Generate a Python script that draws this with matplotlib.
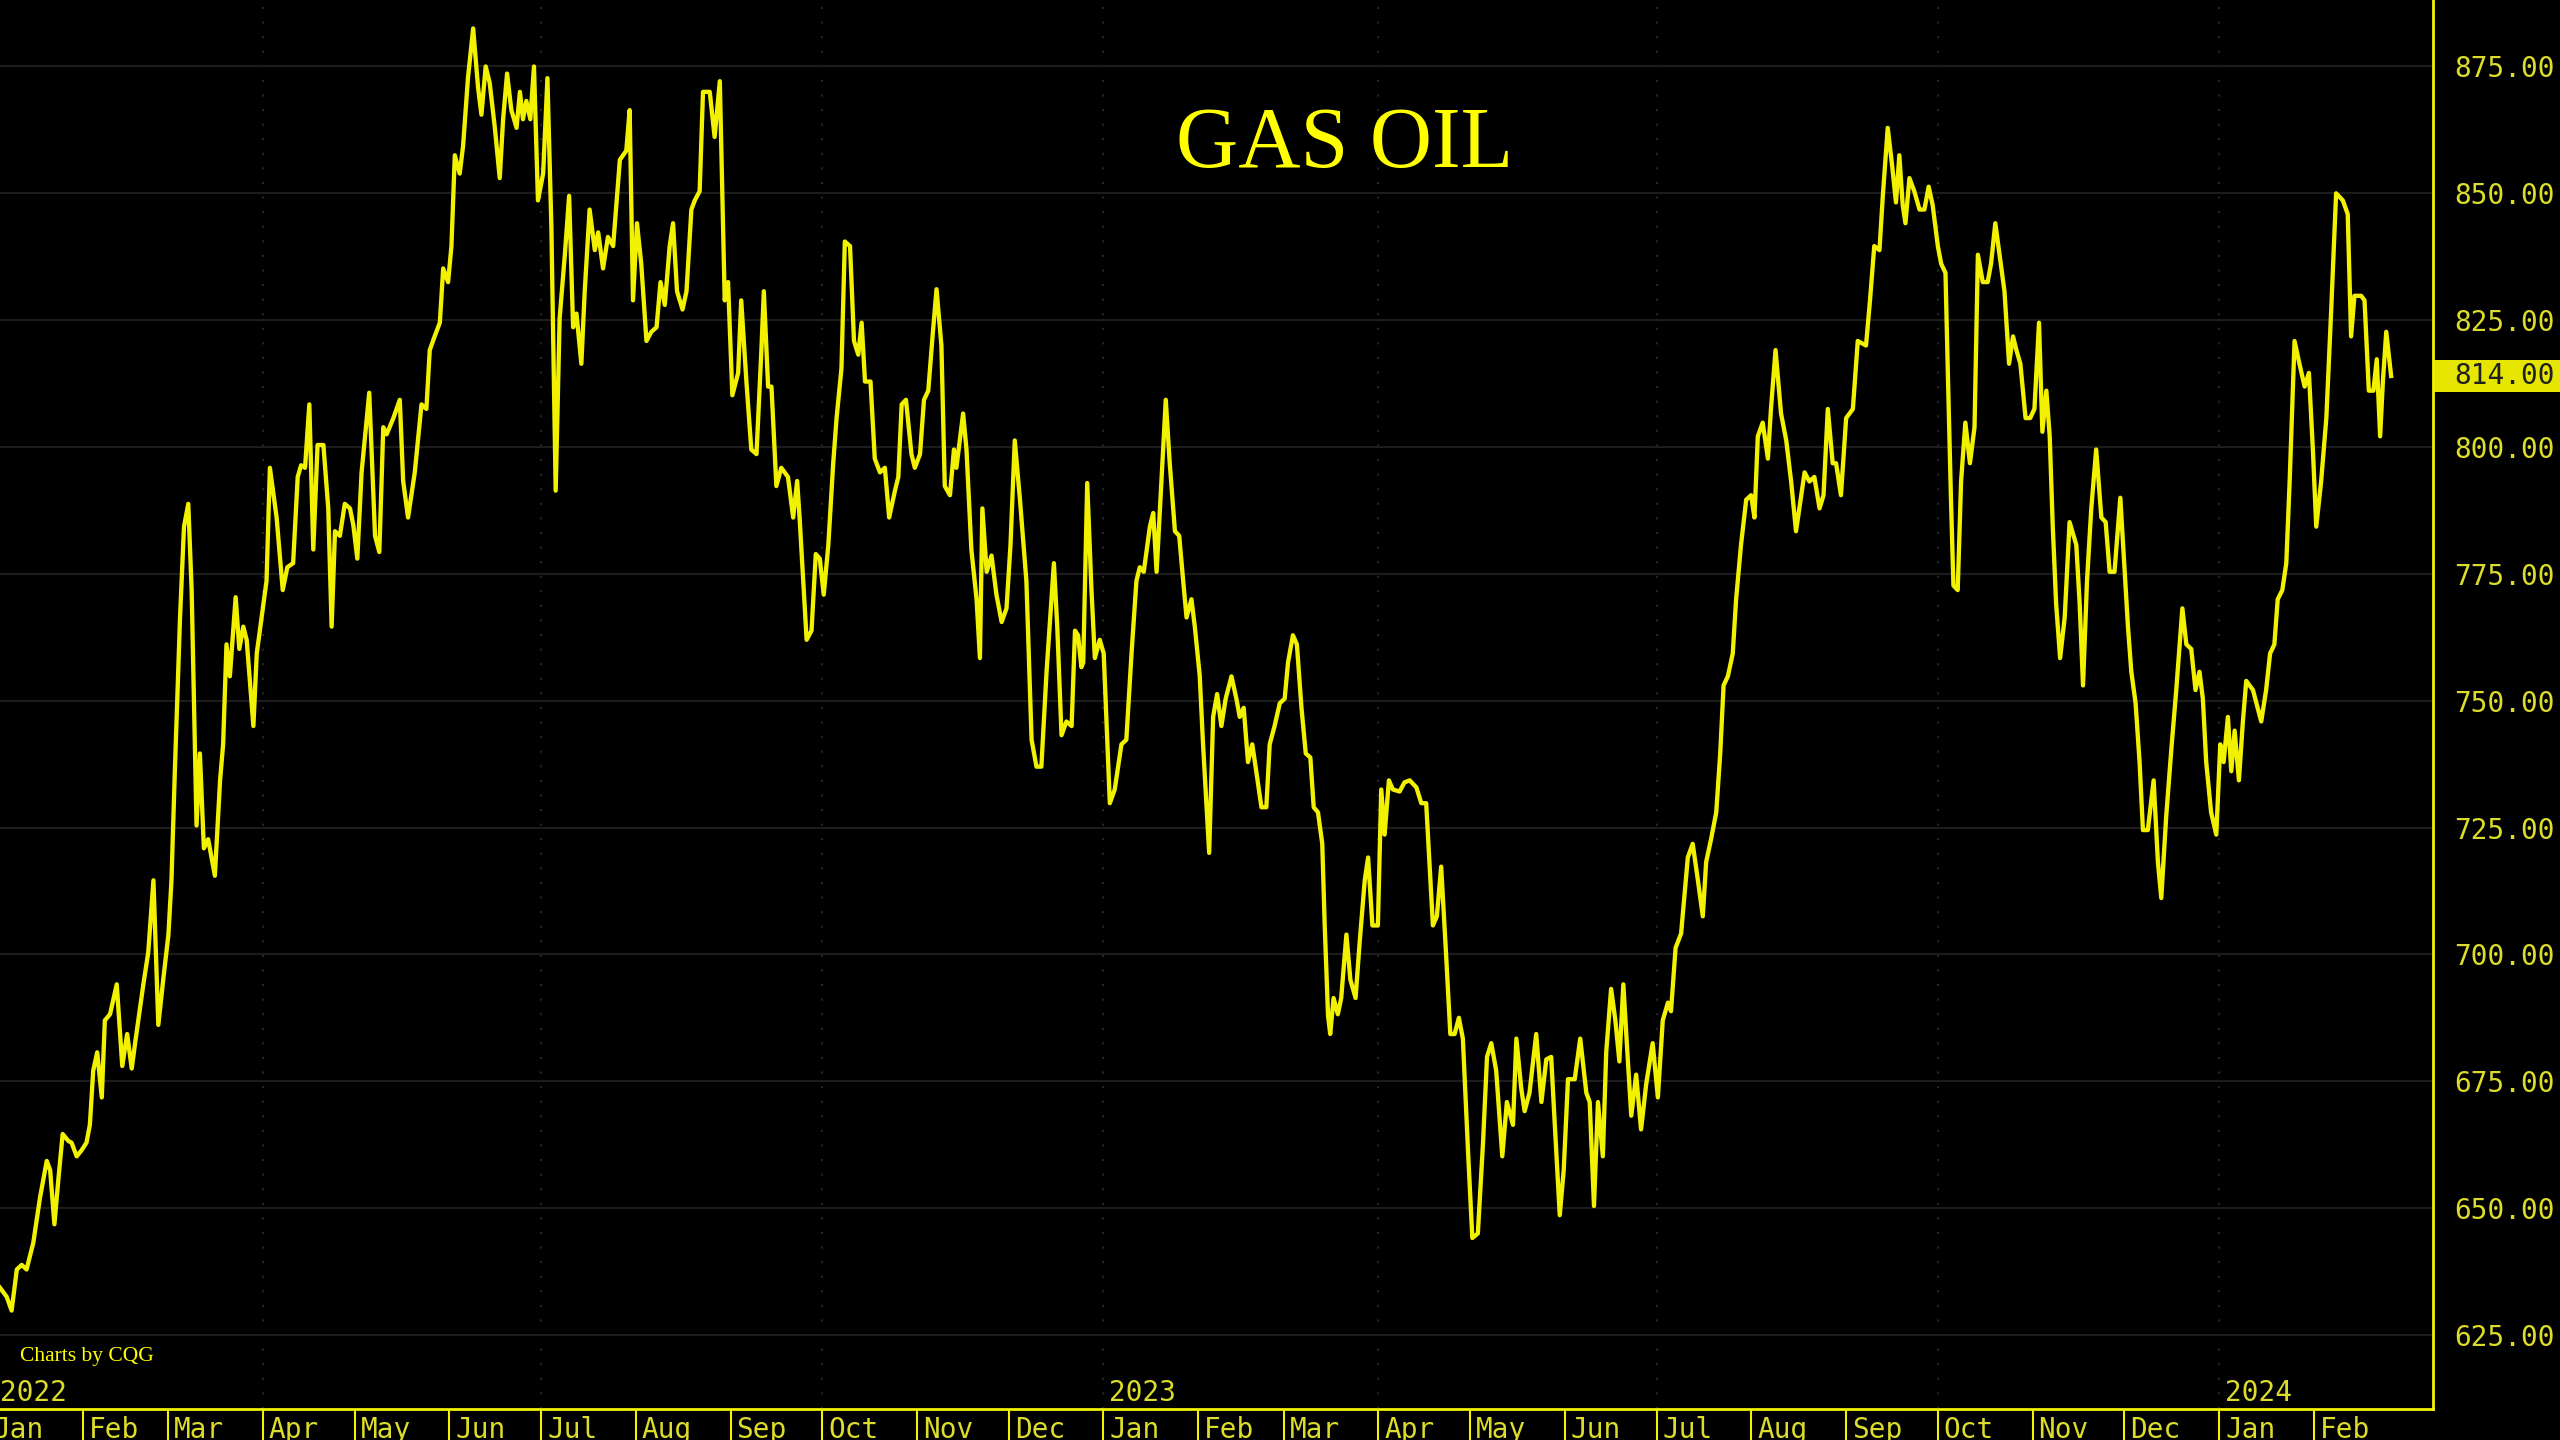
import pandas as pd
import matplotlib
matplotlib.use('Agg')
import matplotlib.pyplot as plt
import matplotlib.ticker as mticker
import matplotlib.dates as mdates
from matplotlib.patches import Rectangle
from matplotlib.transforms import blended_transform_factory


# data: days after the first session, and price
start = '2022-01-05'
end = '2024-03-11'

day = [
    0.0, 2.2, 3.8, 5.5, 7.1, 8.7, 10.9, 13.1, 15.3, 16.4,
    17.8, 19.1, 20.5, 22.4, 23.4, 25.1, 26.7, 28.3, 29.4, 30.5,
    31.8, 33.3, 34.3, 36.0, 38.2, 40.0, 41.6, 43.1, 44.2, 46.9,
    48.5, 50.2, 51.8, 53.4, 55.1, 56.1, 57.2, 58.9, 60.2, 61.6,
    62.7, 64.3, 65.4, 66.7, 68.1, 70.3, 72.0, 73.0, 74.1, 75.2,
    77.1, 78.3, 79.6, 80.7, 82.9, 84.0, 85.6, 87.2, 88.3, 90.5,
    92.5, 94.0, 95.9, 97.4, 98.5, 99.8, 101.2, 102.5, 103.9, 105.8,
    107.4, 108.5, 109.6, 111.2, 112.8, 114.5, 115.6, 116.9, 118.3, 120.8,
    122.7, 124.1, 125.4, 126.5, 128.7, 130.8,
    131.9, 133.5, 135.7, 137.9, 139.5, 140.6, 142.2, 143.9, 145.0, 146.6,
    147.7, 148.8, 150.4, 151.5, 153.1, 154.8, 156.4, 157.5, 158.9, 160.2,
    161.9, 163.5, 164.6, 165.9, 167.3, 169.0, 170.1, 171.1, 172.2, 173.5,
    174.7, 176.0, 177.7, 179.1, 180.4, 181.8, 183.1, 184.8, 186.2, 187.5,
    188.6, 190.2, 191.3, 192.9, 194.6, 195.7, 197.3, 198.9, 200.6, 202.8,
    204.9, 206.0, 207.1, 208.4, 209.8, 211.5, 213.1, 214.8, 216.1, 217.5,
    219.1, 220.2, 221.5, 223.3, 224.6, 226.2, 227.3, 228.9, 230.0, 232.2,
    233.8, 235.5, 237.1, 238.2, 239.6, 241.5, 242.5, 244.2, 245.8, 247.5,
    249.1, 249.9, 251.3, 252.4, 254.0, 255.6, 257.8, 259.5, 260.8, 261.6,
    262.8, 263.9, 265.5, 266.9, 268.2, 269.5, 271.0, 272.6, 273.7, 275.3,
    276.4, 278.1, 279.4, 280.8, 281.9, 283.0, 284.8, 286.2, 287.9, 289.5,
    290.9, 292.8, 293.9, 295.0, 296.4, 298.2, 299.3, 301.0, 302.3, 303.7,
    305.1, 306.4, 308.0, 309.1, 310.8, 312.1, 312.9, 315.1, 316.2, 317.8,
    319.5, 320.6, 321.4, 322.8, 324.4, 326.0, 327.7, 329.3, 330.6, 332.0,
    333.7, 335.8, 337.5, 339.1, 340.7, 342.4, 344.8, 345.9, 347.3, 348.9,
    350.6, 351.7, 352.7, 353.8, 354.4, 355.7, 357.1, 358.2, 359.8, 361.1,
    363.1, 364.7, 366.9, 368.5, 370.2, 371.8, 372.9, 374.2, 376.2, 377.3,
    378.4, 379.5, 381.4, 382.7, 384.4, 385.8, 387.1, 388.2, 389.8, 390.9,
    392.5, 393.6, 395.6, 396.9, 398.2, 399.6, 401.0, 402.9, 404.5, 405.6,
    406.9, 408.3, 409.7, 411.0, 412.7, 414.3, 415.4, 417.0, 418.7, 420.3,
    421.4, 423.0, 424.3, 425.8, 427.2, 428.7, 429.8, 431.2, 432.6, 433.4,
    434.5, 435.2, 436.3, 437.7, 438.8, 440.5, 441.8, 443.5, 444.8, 446.5,
    447.6, 449.0, 450.8, 451.9, 453.0, 454.4, 455.7, 457.9, 459.5, 461.2,
    463.4, 465.0, 466.6, 468.8, 470.1, 471.5, 473.0, 474.5, 475.9, 477.3,
    478.6, 480.3, 481.7, 483.5, 485.2, 486.5, 487.9, 489.5, 491.5, 493.0,
    495.0, 496.1, 497.7, 498.8, 500.4, 502.6, 504.3, 505.9, 507.5, 508.6,
    510.3, 511.6, 513.0, 515.2, 517.0, 519.0, 520.1, 521.5, 522.8,
    524.4, 525.5, 527.1, 528.5, 529.8, 531.1, 532.6, 533.7, 535.3, 536.9,
    538.6, 540.7, 542.4, 544.0, 545.7, 546.7, 548.2, 550.0, 552.2, 553.8,
    555.5, 557.1, 558.2, 559.8, 561.5, 562.8, 563.9, 565.3, 566.9, 568.0,
    569.6, 571.3, 572.9, 574.0, 575.1, 576.7, 578.4, 579.4, 580.9, 582.7,
    584.4, 586.0, 587.6, 588.9, 590.4, 592.0, 593.6, 595.3, 596.6, 598.0,
    599.6, 600.7, 602.3, 604.0, 606.2, 607.8, 610.5, 611.8, 613.2, 614.9,
    616.0, 617.6, 619.0, 620.3, 621.4, 622.5, 623.4, 624.7, 626.3, 628.0,
    629.6, 631.0, 632.3, 634.0, 635.1, 636.5, 637.2, 638.3, 639.1, 640.5,
    641.6, 643.0, 644.5, 646.0, 647.1, 648.7, 650.3, 651.4, 652.8,
    655.8, 657.3, 658.6, 659.7, 661.0, 662.7, 664.2, 665.6, 667.1, 668.2,
    669.5, 670.6, 671.6, 672.7, 674.0, 675.5, 677.1, 679.3, 680.4, 681.5,
    682.8, 684.2, 685.8, 687.5, 688.9, 690.2, 691.8, 693.7, 694.8, 696.2,
    697.3, 698.7, 700.0, 701.1, 702.7, 704.6, 706.0, 707.1, 708.7, 710.4,
    712.0, 714.0, 715.3, 716.9, 718.3, 719.6, 720.7, 721.8, 723.4, 725.1,
    726.4, 727.5, 728.9, 730.0, 731.1, 732.5, 733.8, 734.9, 737.1, 739.8,
    741.4, 742.7, 744.1, 745.2, 746.7, 748.0, 749.1, 750.7, 752.3, 754.0,
    755.4, 756.7, 757.8, 759.4, 761.1, 762.7, 764.3, 766.5, 768.1, 769.2,
    770.3, 772.5, 773.6, 775.0, 776.5, 777.6, 778.7, 779.6, 780.7, 782.3,
]

price = [
    634.3, 632.5, 629.8, 637.9, 638.8, 637.9, 643.2, 652.1, 659.3, 657.5,
    646.8, 655.7, 664.6, 663.2, 662.9, 660.2, 661.4, 662.9, 666.4, 677.1,
    680.7, 671.8, 687.0, 688.2, 694.1, 678.0, 684.3, 677.5, 682.5, 694.1,
    700.4, 714.6, 686.1, 695.0, 703.9, 714.6, 736.1, 766.4, 784.3, 788.8,
    771.8, 725.4, 739.6, 720.9, 722.7, 715.5, 734.3, 741.4, 761.1, 754.8,
    770.4, 760.2, 764.6, 762.0, 745.0, 759.3, 766.4, 773.6, 795.9, 786.1,
    771.8, 776.3, 777.1, 794.1, 796.4, 795.9, 808.4, 779.8, 800.4, 800.4,
    787.9, 764.6, 783.4, 782.5, 788.8, 787.9, 784.6, 778.0, 795.0, 810.7,
    782.5, 779.3, 803.9, 802.5, 805.7, 809.3,
    793.3, 786.1, 795.0, 808.4, 807.5, 819.1, 821.8, 824.5, 835.2, 832.5,
    839.6, 857.5, 853.9, 859.3, 872.7, 882.5, 870.9, 865.5, 875.0, 871.8,
    862.9, 853.0, 864.6, 873.6, 866.4, 862.9, 870.0, 864.6, 868.2, 864.6,
    875.0, 848.6, 853.9, 872.7, 843.2, 791.4, 825.4, 837.9, 849.5, 823.6,
    826.3, 816.4, 830.7, 846.8, 838.8, 842.3, 835.2, 841.4, 839.6, 856.6,
    858.4, 866.4, 828.9, 844.1, 836.1, 820.9, 822.7, 823.6, 832.5, 828.0,
    839.6, 844.1, 830.7, 827.1, 830.7, 846.8, 848.6, 850.4, 870.0, 870.0,
    861.1, 872.1, 828.9, 832.5, 810.2, 814.6, 828.9, 812.9, 799.5, 798.6,
    819.1, 830.7, 811.9, 811.9, 792.3, 795.9, 794.1, 786.1, 793.3, 786.1,
    773.6, 762.0, 763.8, 778.9, 778.0, 770.9, 780.7, 796.8, 805.7, 815.5,
    840.5, 839.6, 820.9, 818.2, 824.5, 812.9, 812.9, 797.7, 795.0, 795.9,
    786.1, 791.4, 794.1, 808.4, 809.3, 798.6, 795.9, 798.6, 809.3, 811.1,
    821.8, 831.1, 820.0, 792.3, 790.5, 799.5, 795.9, 806.6, 799.5, 779.8,
    770.0, 758.4, 787.9, 775.4, 778.6, 770.9, 765.5, 768.2, 780.7, 801.3,
    789.6, 773.6, 742.3, 737.0, 737.0, 755.7, 777.1, 764.6, 743.2, 745.9,
    745.0, 763.8, 762.9, 756.6, 757.5, 792.9, 771.8, 758.4, 762.0, 759.3,
    729.8, 732.5, 741.4, 742.3, 759.3, 773.6, 776.3, 775.4, 784.3, 787.0,
    775.4, 787.9, 809.3, 796.8, 783.4, 782.5, 773.6, 766.4, 770.0, 764.6,
    755.0, 741.4, 720.0, 746.8, 751.3, 745.0, 750.4, 754.8, 750.4, 746.8,
    748.6, 737.9, 741.4, 736.1, 729.0, 729.0, 741.4, 745.0, 749.5, 750.4,
    757.5, 762.9, 761.1, 748.6, 739.6, 738.8, 729.0, 728.0, 721.8, 705.7,
    687.9, 684.3, 691.4, 688.2, 691.4, 703.9, 695.0, 691.4, 702.1, 714.6,
    719.1, 705.7, 705.7, 732.5, 723.6, 734.3, 732.5, 732.1, 733.9, 734.3,
    732.9, 729.8, 729.8, 705.7, 707.5, 717.3, 701.2, 684.3, 684.3, 687.5,
    683.4, 661.1, 644.1, 645.0, 662.9, 679.8, 682.5, 677.1, 660.2, 670.9,
    666.4, 683.4, 673.6, 669.1, 672.7, 684.3, 670.9, 679.3, 679.8, 667.3,
    648.6, 657.5, 675.4, 675.4, 683.4, 672.7, 670.9, 650.4, 670.9,
    660.2, 680.7, 693.2, 687.0, 678.9, 694.1, 678.9, 668.2, 676.3, 665.5,
    674.5, 682.5, 671.8, 687.0, 690.5, 688.8, 701.3, 704.1, 719.1, 721.8,
    714.6, 707.5, 718.2, 722.7, 728.0, 739.6, 753.0, 754.8, 759.3, 770.0,
    780.7, 789.6, 790.5, 786.1, 802.1, 804.8, 797.7, 807.5, 819.1, 806.6,
    801.3, 793.2, 783.4, 788.8, 795.0, 793.2, 794.1, 787.9, 790.5, 807.5,
    796.8, 796.8, 790.5, 805.7, 807.5, 820.9, 820.0, 828.9, 839.6, 838.8,
    849.5, 862.9, 855.7, 848.2, 857.5, 847.7, 844.1, 853.0, 850.4, 846.8,
    846.8, 851.3, 847.7, 839.6, 836.1, 834.3, 816.4, 789.6, 772.7, 771.8,
    793.2, 804.8, 796.8, 803.9, 837.9, 832.5, 832.5, 836.1, 844.1,
    830.7, 816.4, 821.8, 819.1, 816.4, 805.7, 805.7, 807.5, 824.5, 803.0,
    811.1, 802.1, 784.3, 769.1, 758.4, 766.4, 785.2, 780.7, 769.1, 753.0,
    773.6, 787.9, 799.5, 786.1, 785.2, 775.4, 775.4, 790.0, 778.9, 764.6,
    755.7, 749.5, 737.9, 724.5, 724.5, 734.3, 718.2, 711.1, 727.1, 740.5,
    752.1, 768.2, 761.1, 760.2, 752.1, 755.7, 750.4, 737.9, 728.0, 723.6,
    741.4, 737.9, 746.8, 736.1, 744.1, 734.3, 745.9, 753.9, 752.1, 745.9,
    752.1, 759.3, 761.1, 770.0, 771.8, 777.1, 793.2, 820.9, 816.4, 811.9,
    814.6, 799.5, 784.3, 793.2, 805.7, 827.1, 850.0, 848.6, 845.9, 821.8,
    829.8, 829.8, 828.9, 811.1, 811.1, 817.3, 802.1, 812.9, 822.7, 814.0,
]

yticks = [625, 650, 675, 700, 725, 750, 775, 800, 825, 850, 875]
ylim = (610.4, 888.1)
months = pd.date_range('2022-01-01', '2024-02-01', freq='MS')
title = 'GAS OIL'
credit = 'Charts by CQG'

dates = pd.Timestamp(start) + pd.to_timedelta(day, unit='D')

yel = '#f2f200'
lab = '#dcdc2a'
mono = 'DejaVu Sans Mono'
serif = 'Liberation Serif'

fig = plt.figure(figsize=(25.6, 14.4), dpi=100, facecolor='black')
ax = fig.add_axes([0, 1 - 1409 / 1440, 2433 / 2560, 1409 / 1440])
ax.set_facecolor('black')

# faint grid
for q in pd.date_range('2022-04-01', '2024-01-01', freq='QS'):
    ax.axvline(q, color='#262626', lw=1.5, ls=(0, (1, 6)), zorder=0)
ax.grid(axis='y', color='#1c1c1c', lw=1.5)
ax.set_axisbelow(True)

ax.plot(dates, price, color=yel, lw=3.1)

ax.set_xlim(pd.Timestamp(start), pd.Timestamp(end))
ax.set_ylim(*ylim)

for s in ['top', 'left']:
    ax.spines[s].set_visible(False)
for s in ['right', 'bottom']:
    ax.spines[s].set_color(yel)
    ax.spines[s].set_linewidth(2)

# right price scale
ax.yaxis.tick_right()
ax.set_yticks(yticks)
ax.set_yticklabels(['%.2f' % v for v in yticks], family=mono)
ax.tick_params(axis='y', length=0, pad=15, labelsize=20, labelcolor=lab)

# month separators below the axis
ax.xaxis.set_major_locator(mticker.FixedLocator(mdates.date2num(months)))
ax.tick_params(axis='x', which='major', length=23, width=1.5, color=yel,
               direction='out', labelbottom=False)

for m in months:
    ax.annotate(m.strftime('%b'), (m, 0), xycoords=('data', 'axes fraction'),
                xytext=(6, -7), textcoords='offset pixels', ha='left', va='top',
                fontsize=20, family=mono, color=lab, annotation_clip=False)
    if m.month == 1 and m.year > 2022:
        ax.annotate(str(m.year), (m, 0), xycoords=('data', 'axes fraction'),
                    xytext=(6, 2), textcoords='offset pixels', ha='left',
                    va='bottom', fontsize=20, family=mono, color=lab)
ax.annotate('2022', (0, 0), xycoords='axes fraction', xytext=(0, 2),
            textcoords='offset pixels', ha='left', va='bottom',
            fontsize=20, family=mono, color=lab)

# last price marker on the scale
last = price[-1]
trans = blended_transform_factory(ax.transAxes, ax.transData)
ax.add_patch(Rectangle((1.0, last - 3.1), 0.06, 6.2, transform=trans,
                       facecolor='#e6e600', edgecolor='none', clip_on=False))
ax.annotate('%.2f' % last, (1.0, last), xycoords=trans, xytext=(21, 0),
            textcoords='offset pixels', ha='left', va='center',
            fontsize=20, family=mono, color='#202020', annotation_clip=False)

fig.text(1345 / 2560, 1 - 146 / 1440, title, ha='center', va='center',
         fontsize=62, family=serif, color='#ffff00')
fig.text(20 / 2560, 1 - 1357 / 1440, credit, ha='left', va='center',
         fontsize=15.5, family=serif, color='#ffff00')

fig.savefig('out.png', dpi=100, facecolor='black')
